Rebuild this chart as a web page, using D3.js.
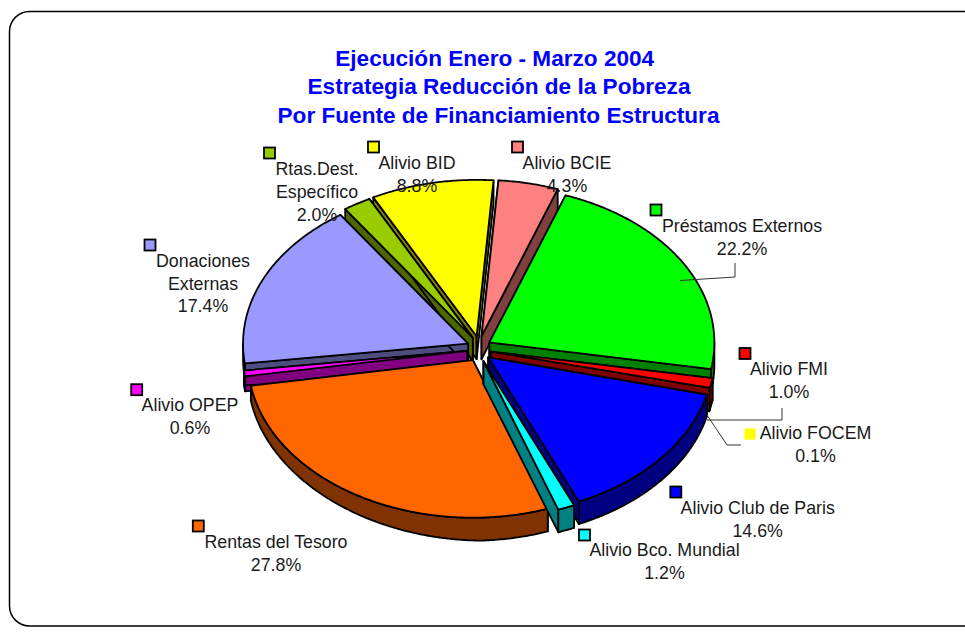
<!DOCTYPE html>
<html>
<head>
<meta charset="utf-8">
<script src="https://cdn.jsdelivr.net/npm/d3@7/dist/d3.min.js"></script>
<style>
html,body{margin:0;padding:0;background:#fff;overflow:hidden}
svg{display:block}
text{font-family:"Liberation Sans",Arial,sans-serif}
</style>
</head>
<body>
<svg id="chart" width="965" height="637"></svg>
<script>
// ---- data ----
const titleLines = ["Ejecución Enero - Marzo 2004","Estrategia Reducción de la Pobreza","Por Fuente de Financiamiento Estructura"];
const categories = ["Préstamos Externos","Alivio FMI","Alivio FOCEM","Alivio Club de Paris","Alivio Bco. Mundial","Rentas del Tesoro","Alivio OPEP","Donaciones Externas","Rtas.Dest. Específico","Alivio BID","Alivio BCIE"];
const shares = [22.2,1.0,0.1,14.6,1.2,27.8,0.6,17.4,2.0,8.8,4.3];
const sliceColors = ["#00ff00","#ff0000","#ffff00","#0000ff","#00ffff","#ff6600","#ff00ff","#9999ff","#99cc00","#ffff00","#ff8080"];
// back-to-front painting order, by category index
const drawOrder = [10,9,8,0,7,6,2,1,3,5,4];

// ---- layout ----
const cx = 479, cy = 349, radius = 225, tiltBack = 0.695, tiltFront = 0.70, explode = 12, explodeY = 13;
const startDeg = 19.8;
const depthAt = d3.scaleLinear().domain([250,480,710]).range([15,23,22]);
// label layout: key centre, text centre, first baseline, wrapped name lines
const labelLayout = [
 {key:[656,210],   tx:742,   ty:231.7, lines:["Préstamos Externos"]},
 {key:[745,353.5], tx:789,   ty:375,   lines:["Alivio FMI"]},
 {key:[750,434],   tx:815.5, ty:439,   lines:["Alivio FOCEM"], noStroke:true},
 {key:[675.8,492], tx:757.7, ty:514,   lines:["Alivio Club de Paris"]},
 {key:[584.5,535], tx:664.5, ty:556,   lines:["Alivio Bco. Mundial"]},
 {key:[198.3,526], tx:276,   ty:547.7, lines:["Rentas del Tesoro"]},
 {key:[136.7,389.7],tx:190,  ty:410.7, lines:["Alivio OPEP"]},
 {key:[150,245],   tx:203,   ty:266.7, lines:["Donaciones","Externas"]},
 {key:[269.5,153], tx:317,   ty:175,   lines:["Rtas.Dest.","Específico"]},
 {key:[373.5,147], tx:417,   ty:169.3, lines:["Alivio BID"]},
 {key:[517.5,147], tx:567,   ty:169.3, lines:["Alivio BCIE"]}
];
const leaderLines = [
 [[680,280.5],[735,277],[735,263]],
 [[707,420],[782,420],[782,408]],
 [[707,415],[727,445],[741,445]]
];

const svg = d3.select("#chart");

// frame (runs past the right edge of the page)
svg.append("rect").attr("x",9.5).attr("y",11.5).attr("width",990).attr("height",614.5)
  .attr("rx",20).attr("ry",20).attr("fill","#fff").attr("stroke","#000").attr("stroke-width",1.5);

const arcs = d3.pie().sort(null).value(d=>d)
  .startAngle(startDeg*Math.PI/180).endAngle((startDeg+360)*Math.PI/180)(shares);

const slices = arcs.map((a,i)=>{
  const mid = (a.startAngle+a.endAngle)/2;
  const c = d3.color(sliceColors[i]);
  return {i, a, mid,
    ox: cx + explode*Math.sin(mid),
    oy: cy - explodeY*Math.cos(mid),
    fill: sliceColors[i],
    wall: d3.rgb(c.r/2,c.g/2,c.b/2).formatHex()};
});

const line = d3.line();
const closed = pts => line(pts)+"Z";
const rim = (s,a) => {
  const c = Math.cos(a);
  return [s.ox+radius*Math.sin(a), s.oy-radius*c*(c>0?tiltBack:tiltFront)];
};
const angles = (a0,a1) => { const n=Math.max(2,Math.ceil((a1-a0)/0.01)); return d3.range(n+1).map(k=>a0+(a1-a0)*k/n); };
const down = p => [p[0],p[1]+depthAt(p[0])];

const pieG = svg.append("g").attr("stroke","#000").attr("stroke-width",1.8).attr("stroke-linejoin","round");

drawOrder.map(i=>slices[i]).forEach(s=>{
  const g = pieG.append("g");
  const apex=[s.ox,s.oy], a0=s.a.startAngle, a1=s.a.endAngle;
  // radial walls
  [a0,a1].forEach(a=>{
    const p=rim(s,a);
    g.append("path").attr("d",closed([apex,p,down(p),down(apex)])).attr("fill",s.wall);
  });
  // outer wall: only the part facing the viewer (90deg..270deg)
  const lo=Math.PI/2, hi=3*Math.PI/2;
  [[a0,a1],[a0-2*Math.PI,a1-2*Math.PI]].forEach(([b0,b1])=>{
    const f0=Math.max(b0,lo), f1=Math.min(b1,hi);
    if(f1>f0){
      const top=angles(f0,f1).map(a=>rim(s,a));
      g.append("path").attr("d",closed(top.concat(top.slice().reverse().map(down)))).attr("fill",s.wall);
    }
  });
  // top face
  g.append("path").attr("d",closed([apex].concat(angles(a0,a1).map(a=>rim(s,a))))).attr("fill",s.fill);
});

// leader lines
svg.append("g").selectAll("path").data(leaderLines).join("path")
  .attr("d",d=>line(d)).attr("fill","none").attr("stroke","#333").attr("stroke-width",1);

// legend keys and labels
const lab = svg.append("g").selectAll("g").data(labelLayout).join("g");
lab.append("rect")
  .attr("x",d=>d.key[0]-5.5).attr("y",d=>d.key[1]-5.5).attr("width",11).attr("height",11)
  .attr("fill",(d,i)=>sliceColors[i])
  .attr("stroke",d=>d.noStroke?"none":"#000").attr("stroke-width",1.8);
lab.each(function(d,i){
  const t=d.lines.concat([shares[i].toFixed(1)+"%"]);
  d3.select(this).selectAll("text").data(t).join("text")
    .attr("x",d.tx).attr("y",(_,k)=>d.ty+k*22.8)
    .attr("text-anchor","middle").attr("font-size",17.8).attr("fill","#1a1a1a").text(v=>v);
});

// title
svg.append("g").selectAll("text").data(titleLines).join("text")
  .attr("x",(_,i)=>[494.7,499,498.5][i]).attr("y",(_,i)=>66+i*28.3)
  .attr("text-anchor","middle").attr("font-size",22.6).attr("font-weight","bold").attr("fill","#0000ff")
  .text(d=>d);
</script>
</body>
</html>
